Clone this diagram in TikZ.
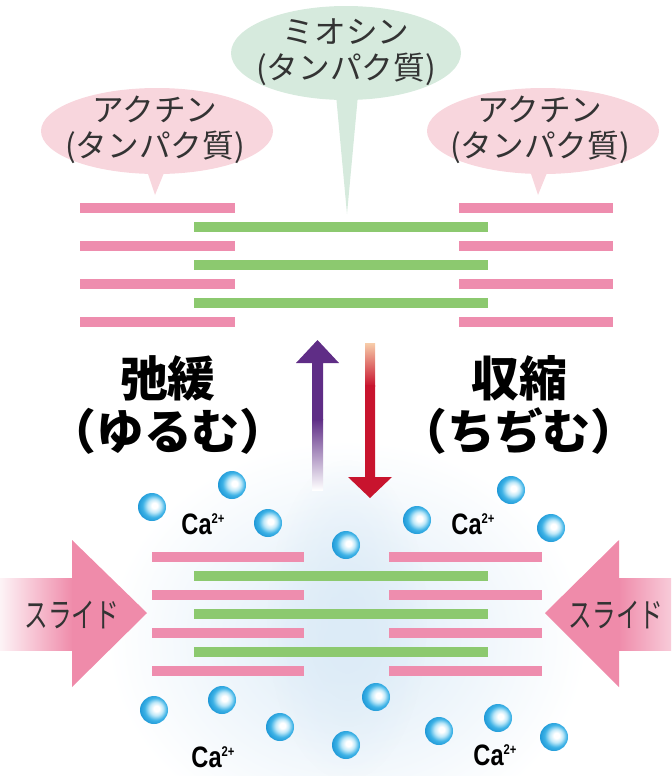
\documentclass[tikz,border=0pt]{standalone}
\usepackage{fontspec}
\setmainfont{Liberation Sans}
\newfontfamily\jpfont{Noto Sans CJK JP}
\usetikzlibrary{positioning,shadings,fadings}
\definecolor{ActinPink}{HTML}{EE8DAE}
\definecolor{ActinPale}{HTML}{F8D6DD}
\definecolor{MyosinGreen}{HTML}{8CC96F}
\definecolor{MyosinPale}{HTML}{D6EADD}
\definecolor{RelaxPurple}{HTML}{5F2D86}
\definecolor{ContractRed}{HTML}{C8142E}
\definecolor{ContractPeach}{HTML}{F7CDAA}
\definecolor{IonLight}{HTML}{BFE8F8}
\definecolor{IonBlue}{HTML}{3DB2E6}
\definecolor{IonDeep}{HTML}{1590D2}
\definecolor{GlowBlue}{HTML}{DCEBF7}
\definecolor{SlidePink}{HTML}{EF8BAA}
\definecolor{CalloutInk}{HTML}{333333}
\newcommand{\casup}{\raisebox{7.6pt}{\fontsize{10}{10}\selectfont 2+}}
% calcium ion: highlight slightly right of centre
\pgfdeclareradialshading{ionball}{\pgfpoint{5bp}{3bp}}{%
  color(0bp)=(white); color(5bp)=(white);
  color(12bp)=(IonLight); color(20bp)=(IonBlue);
  color(30bp)=(IonDeep); color(50bp)=(IonDeep)}
\tikzfading[name=glowfade,inner color=transparent!0,outer color=transparent!100]

\begin{document}
\begin{tikzpicture}[x=0.025cm,y=-0.025cm,
    actin/.style={draw=ActinPink,line width=2.3mm},
    myosin/.style={draw=MyosinGreen,line width=2.45mm},
    callout/.style={align=center,text=CalloutInk,
      font=\jpfont\fontsize{22.5}{26}\selectfont},
    state/.style={align=center,text=black,
      font=\jpfont\bfseries\fontsize{34}{38}\selectfont},
    slidetext/.style={text=CalloutInk,xscale=0.7,
      font=\jpfont\fontsize{24}{24}\selectfont},
    ion/.style={shading=ionball},
    calabel/.style={inner sep=0pt,xscale=0.8,
      font=\bfseries\fontsize{21}{21}\selectfont}
  ]
  \useasboundingbox (0,0) rectangle (671,776);

  % pale glow behind the contracted sarcomere
  \shade[inner color=GlowBlue,outer color=white] (347,640) ellipse [x radius=240,y radius=200];
  \fill[GlowBlue,path fading=glowfade] (347,620) ellipse [x radius=80,y radius=160];

  % speech bubbles
  \fill[MyosinPale] (346,53) ellipse [x radius=115,y radius=47];
  \fill[MyosinPale] (336,95) -- (347,214) -- (358,95) -- cycle;
  \fill[ActinPale] (157,131) ellipse [x radius=116,y radius=43];
  \fill[ActinPale] (146,168) -- (155,195) -- (166,168) -- cycle;
  \fill[ActinPale] (543,131) ellipse [x radius=116,y radius=43];
  \fill[ActinPale] (529,168) -- (538,195) -- (549,168) -- cycle;
  \node[callout] (myosin) at (346,52) {ミオシン\\(タンパク質)};
  \node[callout] (actinL) at (155,130) {アクチン\\(タンパク質)};
  \node[callout] (actinR) at (540,130) {アクチン\\(タンパク質)};

  % relaxed filaments
  \foreach \y in {208,246,284,322} {
    \draw[actin] (80,\y) -- (235,\y);
    \draw[actin] (459,\y) -- (613,\y);
  }
  \foreach \y in {227,265,303}
    \draw[myosin] (194,\y) -- (488,\y);

  % contracted filaments
  \foreach \y in {557,595,633,671} {
    \draw[actin] (152,\y) -- (304,\y);
    \draw[actin] (389,\y) -- (542,\y);
  }
  \foreach \y in {576,614,652}
    \draw[myosin] (194,\y) -- (488,\y);

  % relax / contract arrows
  \shade[top color=RelaxPurple,bottom color=white] (312,419) rectangle (323,490);
  \fill[RelaxPurple] (312,420) -- (312,363) -- (296,363) -- (317.5,340)
    -- (339,363) -- (323,363) -- (323,420) -- cycle;
  \shade[top color=ContractPeach,bottom color=ContractRed] (365,343) rectangle (375,386);
  \fill[ContractRed] (365,385) -- (365,477) -- (348,477) -- (370,498)
    -- (392,477) -- (375,477) -- (375,385) -- cycle;

  \node[state] (relax) at (168,405) {弛緩\\（ゆるむ）};
  \node[state] (contract) at (519,405) {収縮\\（ちぢむ）};

  % calcium ions
  \foreach \x/\y in {152/507,232/485,268/523,346/545,417/520,511/490,551/528,
      154/710,222/700,280/727,376/697,346/745,439/731,498/718,554/737}
    \shade[ion] (\x,\y) circle [radius=14];
  \node[calabel] (caTL) at (203,524) {Ca\casup};
  \node[calabel] (caTR) at (473,524) {Ca\casup};
  \node[calabel] (caBL) at (213,757) {Ca\casup};
  \node[calabel] (caBR) at (495,755) {Ca\casup};

  % sliding arrows
  \shade[left color=SlidePink!10,right color=SlidePink] (0,578) rectangle (73,650);
  \fill[SlidePink] (72,578) -- (72,540) -- (147,613) -- (72,687) -- (72,650) -- cycle;
  \shade[left color=SlidePink,right color=SlidePink!45] (618,578) rectangle (671,650);
  \fill[SlidePink] (619,578) -- (619,540) -- (545,613) -- (619,687) -- (619,650) -- cycle;
  \node[slidetext] (slideL) at (72,615) {スライド};
  \node[slidetext] (slideR) at (616,615) {スライド};
\end{tikzpicture}
\end{document}
